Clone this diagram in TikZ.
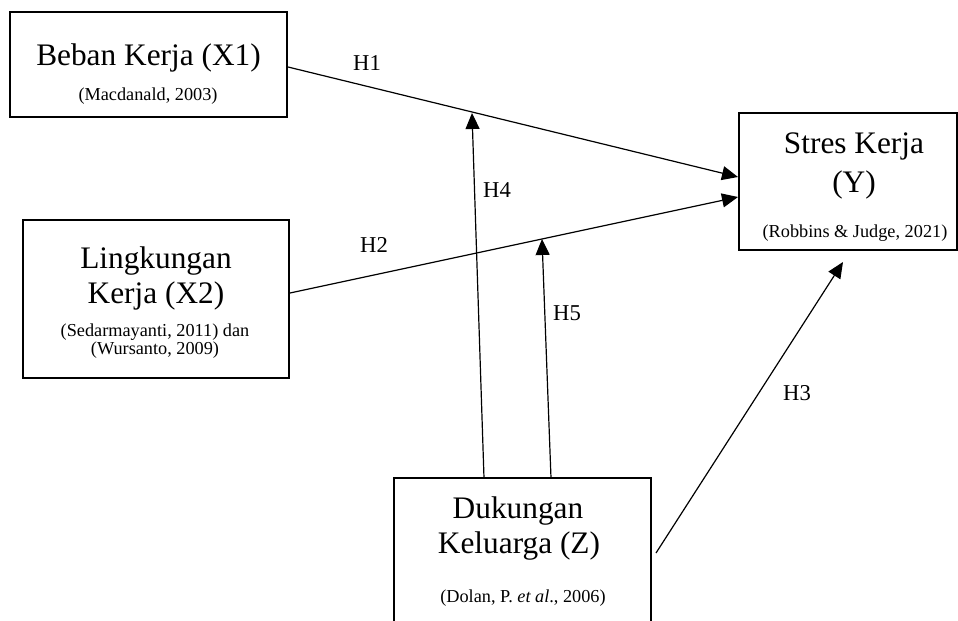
\documentclass[tikz,border=0pt]{standalone}
\usepackage{fontspec}
\setmainfont{Liberation Serif}
\usetikzlibrary{arrows.meta,calc}
\tikzset{
  boxnode/.style={draw, line width=0.9pt, inner sep=0pt},
  titletext/.style={anchor=base, inner sep=0pt, font=\fontsize{23.5}{28}\selectfont},
  citetext/.style={anchor=base, inner sep=0pt, font=\fontsize{13.7}{16}\selectfont},
  hlabel/.style={inner sep=0pt, font=\fontsize{17}{20}\selectfont},
  link/.style={line width=0.9pt, -{Triangle[length=12pt,width=10.5pt]}}
}
\begin{document}
\begin{tikzpicture}[x=0.75pt,y=-0.75pt]
\useasboundingbox (0,0) rectangle (958,621);
\clip (0,0) rectangle (958,621);
% boxes
\node[boxnode, minimum width=207.75pt, minimum height=78.75pt] (X1) at (148.5,64.5) {};
\node[boxnode, minimum width=199.5pt, minimum height=118.5pt] (X2) at (156,299) {};
\node[boxnode, minimum width=163.5pt, minimum height=102.75pt] (Y) at (848,181.5) {};
\node[boxnode, minimum width=192.75pt, minimum height=129pt] (Z) at (522.5,564) {};
% texts
\node[titletext] (X1t) at (148.5,65) {Beban Kerja (X1)};
\node[citetext] (X1c) at (148,100) {(Macdanald, 2003)};
\node[titletext] (X2t1) at (156,268) {Lingkungan};
\node[titletext] (X2t2) at (156,303) {Kerja (X2)};
\node[inner sep=0pt, align=center, font=\fontsize{13.7}{12}\selectfont] (X2c) at (155,341.5) {(Sedarmayanti, 2011) dan\\(Wursanto, 2009)};
\node[titletext] (Yt1) at (854,153) {Stres Kerja};
\node[titletext] (Yt2) at (854,192) {(Y)};
\node[citetext] (Yc) at (855,237) {(Robbins \& Judge, 2021)};
\node[titletext] (Zt1) at (518,518) {Dukungan};
\node[titletext] (Zt2) at (519,553) {Keluarga (Z)};
\node[citetext] (Zc) at (523,602) {(Dolan, P. \textit{et al}., 2006)};
% connector end points
\coordinate (h1s) at (288,67);
\coordinate (h1e) at (738,177);
\coordinate (h2s) at (290,293);
\coordinate (h2e) at (738,197);
\coordinate (h3s) at (656,553);
\coordinate (h3e) at (843,262);
\coordinate (h4s) at (484,478);
\coordinate (h4e) at (472,113);
\coordinate (h5s) at (551,478);
\coordinate (h5e) at (542,239);
% connectors
\draw[link] (h1s) -- (h1e);
\draw[link] (h2s) -- (h2e);
\draw[link] (h3s) -- (h3e);
\draw[link] (h4s) -- (h4e);
\draw[link] (h5s) -- (h5e);
% labels
\node[hlabel] (H1) at (367,63) {H1};
\node[hlabel] (H2) at (374,245) {H2};
\node[hlabel] (H3) at (797,393) {H3};
\node[hlabel] (H4) at (497,190) {H4};
\node[hlabel] (H5) at (567,313) {H5};
\end{tikzpicture}
\end{document}
